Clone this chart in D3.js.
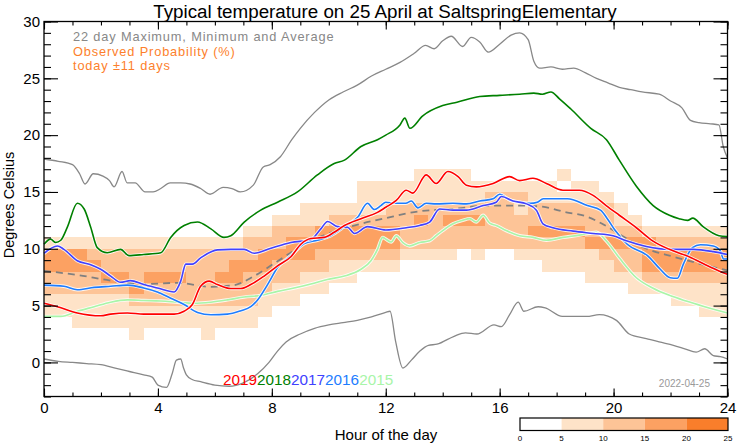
<!DOCTYPE html>
<html><head><meta charset="utf-8">
<script src="https://cdn.jsdelivr.net/npm/d3@7"></script>
<style>body{margin:0;background:#fff} text{font-family:"Liberation Sans",Arial,Helvetica,sans-serif}</style>
</head><body><svg id="c" width="742" height="445"></svg>
<script>
// ---------------- data ----------------
const title = "Typical temperature on 25 April at SaltspringElementary";
const xTicks = [0,4,8,12,16,20,24];
const yTicks = [0,5,10,15,20,25,30];
const probTicks = [0,5,10,15,20,25];
const probColors = ["#ffffff","#fee3c8","#fdc497","#fca162","#f97e2b"];
// probability class per half-hour column (col 0 = 00:00-00:30), chars = T cells 1..17 (class k => 5k..5k+5 %)
const heatCols = [
"00011223310000000","00011223310000000","00111223310000000","00111223210000000",
"00111232210000000","00111232210000000","01112322210000000","00112232210000000",
"00112232210000000","00112232210000000","00112222210000000","01112222210000000",
"00112232210000000","00112233210000000","00112223221000000","00011223321000000",
"00001122322100000","00001122332100000","00000112332110000","00000112233110000",
"00000011233210000","00000011233210000","00000001233211100","00000001233211100",
"00000001233221100","00000000122221100","00000000122321110","00000000122221110",
"00000000122321110","00000000022321110","00000000122321100","00000000022222100",
"00000000022222100","00000000122212100","00000000123221100","00000001123221100",
"00000001123221010","00000001123221100","00000011132221100","00000011232221000",
"00000012232110000","00000112232100000","00000123331000000","00000123321000000",
"00001123321000000","00001123321000000","00011123321000000","00011123321000000"];

const maxLine = [[0,17.9],[0.5,17.7],[1.0,17.4],[1.25,16.6],[1.44,15.7],[1.73,16.6],[2.07,16.4],[2.3,16.0],[2.46,15.45],[2.74,16.8],[2.92,15.8],[3.2,15.8],[3.55,15.0],[3.83,15.0],[4.1,15.3],[4.43,15.8],[4.8,15.8],[5.13,15.7],[5.5,15.3],[5.83,14.8],[6.29,15.4],[6.6,15.3],[6.89,15.0],[7.35,15.6],[7.7,17.2],[7.94,17.4],[8.3,18.1],[8.7,19.6],[9.0,20.6],[9.5,22.0],[10.0,23.1],[10.5,23.8],[11.0,24.4],[11.5,25.2],[12.0,25.8],[12.5,26.4],[13.0,27.2],[13.4,27.9],[13.7,27.6],[14.0,28.3],[14.3,28.7],[14.7,27.8],[15.0,28.6],[15.3,28.2],[15.6,27.3],[16.0,28.0],[16.4,28.8],[16.7,29.0],[17.0,28.4],[17.2,26.5],[17.4,25.9],[17.8,26.0],[18.2,25.8],[18.6,25.9],[19.0,25.5],[19.4,25.0],[19.8,24.6],[20.2,24.2],[20.6,24.0],[21.0,23.8],[21.6,23.6],[22.0,23.0],[22.4,22.4],[22.7,21.3],[23.0,21.1],[23.4,21.0],[23.7,20.9],[23.85,19.0],[24,18.0]];
const minLine = [[0,0.3],[0.5,0.1],[1,0.0],[1.5,-0.1],[2,-0.2],[2.5,-0.5],[3,-0.8],[3.5,-1.1],[3.8,-1.3],[4.0,-2.0],[4.3,-2.2],[4.5,-1.0],[4.65,0.2],[4.8,0.3],[4.9,-0.5],[5.0,-1.1],[5.2,-1.5],[5.5,-1.7],[6.0,-2.0],[6.5,-2.1],[7.0,-1.8],[7.5,-1.0],[7.9,0.0],[8.2,1.0],[8.5,1.8],[9,2.5],[9.5,3.0],[10,3.3],[10.5,3.5],[11,3.7],[11.5,4.0],[12.0,4.4],[12.15,4.5],[12.35,1.8],[12.6,-0.5],[12.9,0.2],[13.2,1.0],[13.5,1.5],[13.8,1.6],[14.4,2.3],[14.8,2.6],[15.2,2.5],[15.8,3.3],[16.06,3.15],[16.35,4.2],[16.65,5.3],[16.85,4.5],[17.35,4.9],[17.6,4.8],[18.2,4.05],[19.05,4.05],[19.5,4.2],[20.1,3.7],[20.55,2.5],[21.15,2.1],[21.6,1.8],[22.1,1.5],[22.5,1.2],[22.9,0.9],[23.2,1.2],[23.5,0.6],[23.75,0.5],[24,0.3]];
const avgLine = [[0,8.05],[1.17,7.7],[2.34,7.2],[3.5,6.9],[4.68,7.0],[5.86,6.65],[6.68,6.8],[7.38,7.6],[8.2,8.9],[9.02,10.2],[9.95,11.3],[11.13,12.2],[12,12.7],[13.18,13.3],[14.36,13.5],[15.53,13.8],[16.7,13.8],[17.5,13.7],[18.34,13.2],[19.04,12.85],[19.6,12.2],[20.2,11.3],[20.8,10.4],[21.39,9.8],[21.96,9.4],[22.55,9.0],[23.14,8.6],[24,8.1]];
const y2019 = [[0,5.2],[0.47,4.9],[1.17,4.35],[1.99,4.1],[2.34,4.25],[2.93,4.35],[3.5,4.25],[4.57,4.25],[4.92,4.5],[5.21,5.1],[5.5,6.7],[5.8,7.15],[6.09,6.85],[6.56,6.5],[6.91,6.5],[7.26,6.85],[7.73,7.6],[8.2,8.5],[8.67,9.3],[9.02,10.4],[9.37,10.9],[9.84,11.0],[10.19,11.45],[10.55,12.05],[11.13,12.65],[11.71,13.2],[12,13.65],[12.37,14.25],[12.72,15.15],[12.95,14.9],[13.42,16.5],[13.77,15.75],[14.18,16.8],[14.54,16.35],[14.83,15.6],[15.18,15.45],[15.77,15.75],[16.35,16.35],[16.7,16.0],[17.17,16.2],[17.64,15.75],[18.22,15.15],[18.8,15.15],[19.28,14.7],[19.74,13.8],[20.2,12.95],[20.8,11.85],[21.37,10.7],[21.96,9.95],[22.55,9.4],[23.14,8.7],[23.7,8.05],[24,7.75]];
const y2018 = [[0,10.4],[0.23,10.85],[0.41,10.55],[0.59,10.75],[0.82,11.9],[1.17,14.0],[1.41,13.5],[1.64,11.9],[1.87,10.1],[2.22,9.65],[2.69,9.95],[2.98,9.4],[3.5,9.5],[4.1,9.65],[4.45,11.0],[4.92,12.05],[5.39,12.35],[5.86,11.75],[6.32,11.0],[6.56,11.15],[7.03,12.35],[7.61,13.4],[8.2,14.1],[8.9,15.0],[9.6,16.5],[10.19,17.5],[10.55,17.8],[11.13,19.0],[11.71,19.6],[12,20.0],[12.5,20.9],[12.67,21.5],[12.85,20.6],[13.3,21.7],[14,22.6],[14.5,22.9],[15.3,23.4],[16,23.5],[16.7,23.6],[17.2,23.7],[17.5,23.6],[17.8,23.8],[18.1,23.2],[18.5,22.3],[19.2,20.6],[19.75,19.6],[20.2,17.8],[20.8,15.5],[21.39,13.8],[21.96,12.95],[22.3,12.65],[22.6,12.5],[22.78,12.7],[23.14,11.95],[23.7,11.15],[24,11.07]];
const y2017 = [[0,9.6],[0.47,10.25],[0.7,9.95],[1.17,8.95],[1.64,8.6],[1.99,8.2],[2.34,7.6],[2.69,7.05],[3.03,7.2],[3.5,6.85],[3.98,6.55],[4.57,6.2],[4.8,7.15],[4.98,8.65],[5.21,8.65],[5.5,9.2],[6.09,9.9],[6.56,9.95],[7.03,9.95],[7.38,9.6],[7.97,10.05],[8.67,10.55],[9.37,10.8],[9.72,11.75],[9.96,12.4],[10.31,11.95],[10.66,11.9],[10.9,11.35],[11.36,11.95],[12,11.65],[12.72,11.85],[13.19,12.05],[13.54,12.35],[13.89,13.5],[14.36,13.4],[14.83,13.4],[15.42,13.8],[15.88,14.1],[16.06,14.6],[16.47,14.2],[16.94,13.95],[17.29,13.4],[17.52,12.2],[17.87,11.85],[18.58,11.55],[19.28,11.35],[19.98,11.15],[20.45,10.7],[21.15,10.2],[21.96,9.95],[22.8,9.95],[23.5,9.75],[24,9.5]];
const y2016 = [[0,6.8],[0.7,6.7],[1.17,6.4],[1.76,6.6],[2.34,6.7],[2.93,6.8],[3.5,6.55],[3.98,6.2],[4.45,5.65],[4.92,5.1],[5.39,4.4],[5.86,4.2],[6.44,4.25],[6.91,4.55],[7.26,4.9],[7.5,5.5],[7.85,6.85],[8.2,8.35],[8.67,9.4],[9.14,10.45],[9.6,10.75],[10.07,11.15],[10.55,11.95],[11.02,12.8],[11.36,14.0],[11.6,13.45],[11.83,13.8],[12,14.1],[12.35,14.0],[12.7,14.0],[12.9,14.2],[13.13,13.6],[13.42,14.0],[13.77,13.95],[14.36,14.0],[14.83,13.95],[15.3,14.2],[15.77,14.4],[16.0,14.8],[16.35,14.3],[16.72,14.1],[17.07,14.0],[17.32,14.1],[17.53,14.4],[18.38,14.4],[19.08,13.8],[19.54,13.4],[19.78,12.65],[20.06,11.6],[20.48,10.4],[21.19,9.4],[21.64,8.2],[21.99,7.45],[22.24,7.4],[22.45,8.65],[22.77,10.1],[23.05,10.35],[23.5,10.25],[23.75,9.8],[23.86,9.1],[24,9.1]];
const y2015 = [[0,4.05],[0.59,4.05],[1.17,4.5],[1.76,4.9],[2.34,5.3],[2.93,5.5],[3.5,5.45],[4.1,5.4],[4.68,5.3],[5.27,5.2],[5.86,5.3],[6.44,5.5],[7.03,5.75],[7.61,5.9],[8.2,6.25],[8.78,6.55],[9.37,6.9],[9.95,7.3],[10.55,7.6],[11.13,8.2],[11.48,8.95],[11.71,9.95],[11.89,11.0],[12,10.85],[12.19,10.6],[12.37,11.15],[12.6,10.55],[12.84,10.25],[13.19,10.55],[13.54,10.7],[13.77,11.15],[14.0,11.6],[14.36,12.2],[14.7,12.5],[14.95,12.65],[15.18,12.35],[15.42,12.95],[15.65,12.25],[15.88,12.05],[16.23,11.6],[16.7,11.15],[17.17,11.0],[17.64,10.75],[18.22,11.0],[18.8,11.2],[19.4,11.45],[19.74,10.7],[20.2,9.2],[20.8,7.45],[21.37,6.55],[21.96,5.9],[22.55,5.4],[23.14,4.95],[23.7,4.55],[24,4.35]];
const years = ["2019","2018","2017","2016","2015"];
const yearColors = ["#ff0000","#008000","#4141ff","#1e7dff","#a8f5a8"];
const yearSeries = [y2019,y2018,y2017,y2016,y2015];

// ---------------- drawing ----------------
const svg = d3.select("#c");
const L = 44, R = 727.5, T = 21.5, B = 396.5;
const x = d3.scaleLinear().domain([0,24]).range([L,R]);
const y = d3.scaleLinear().domain([-3,30]).range([B,T]);
const color = d3.scaleThreshold().domain([5,10,15,20]).range(probColors);

// heatmap
const cells = [];
heatCols.forEach((s,ci)=>{ for(let k=0;k<s.length;k++){ const c=+s[k]; if(c>0) cells.push({h:ci*0.5, t:k+1, p:c*5+2.5}); }});
svg.append("g").selectAll("rect").data(cells).join("rect")
  .attr("x",d=>x(d.h)).attr("width",d=>x(d.h+0.5)-x(d.h))
  .attr("y",d=>y(d.t+1)).attr("height",d=>y(d.t)-y(d.t+1))
  .attr("fill",d=>color(d.p)).attr("shape-rendering","crispEdges");

const line = d3.line().x(d=>x(d[0])).y(d=>y(d[1])).curve(d3.curveMonotoneX);
const gl = svg.append("g");
gl.append("path").attr("d",line(avgLine)).attr("fill","none").attr("stroke","#808080").attr("stroke-width",1.8).attr("stroke-dasharray","7,5");
[maxLine,minLine].forEach(s=>gl.append("path").attr("d",line(s)).attr("fill","none").attr("stroke","#888").attr("stroke-width",1.3));
for(let i=yearSeries.length-1;i>=0;i--){
  gl.append("path").attr("d",line(yearSeries[i])).attr("fill","none").attr("stroke","#fff").attr("stroke-width",3.4).attr("stroke-opacity",0.85);
  gl.append("path").attr("d",line(yearSeries[i])).attr("fill","none").attr("stroke",yearColors[i]).attr("stroke-width",1.6);
}

// axes (ticks inward)
const minorY = d3.range(-3,31), minorX = d3.range(0,25);
function ax(gen, tv, size, tr){ const g=svg.append("g").attr("transform",tr).call(gen.tickValues(tv).tickSize(size).tickFormat("")); g.select(".domain").remove(); g.selectAll("line").attr("stroke","#000").attr("stroke-width",1.1); }
ax(d3.axisRight(y), minorY, 7, `translate(${L},0)`);
ax(d3.axisRight(y), yTicks, 14, `translate(${L},0)`);
ax(d3.axisLeft(y), minorY, 7, `translate(${R},0)`);
ax(d3.axisLeft(y), yTicks, 14, `translate(${R},0)`);
ax(d3.axisTop(x), minorX, 4, `translate(0,${B})`);
ax(d3.axisTop(x), xTicks, 8, `translate(0,${B})`);
ax(d3.axisBottom(x), minorX, 4, `translate(0,${T})`);
ax(d3.axisBottom(x), xTicks, 8, `translate(0,${T})`);
svg.append("rect").attr("x",L).attr("y",T).attr("width",R-L).attr("height",B-T).attr("fill","none").attr("stroke","#000").attr("stroke-width",1.3);

// tick labels
const yl = svg.append("g").attr("transform",`translate(${L},0)`).call(d3.axisLeft(y).tickValues(yTicks).tickSize(0).tickPadding(4));
yl.select(".domain").remove(); yl.selectAll("text").attr("font-size",15).attr("fill","#000").attr("font-family","Liberation Sans, Arial");
const xl = svg.append("g").attr("transform",`translate(0,${B})`).call(d3.axisBottom(x).tickValues(xTicks).tickSize(0).tickPadding(6));
xl.select(".domain").remove(); xl.selectAll("text").attr("font-size",15).attr("fill","#000").attr("font-family","Liberation Sans, Arial");

// titles
svg.append("text").attr("x",385).attr("y",18).attr("text-anchor","middle").attr("font-size",18.8).text(title);
svg.append("text").attr("x",386).attr("y",440).attr("text-anchor","middle").attr("font-size",15).text("Hour of the day");
svg.append("text").attr("transform","translate(14,205) rotate(-90)").attr("text-anchor","middle").attr("font-size",14.5).text("Degrees Celsius");

// legend texts
const legendLines = [["22 day Maximum, Minimum and Average","#888"],["Observed Probability (%)","#fd7f2c"],["today \u00b111 days","#fd7f2c"]];
legendLines.forEach((d,i)=>svg.append("text").attr("x",73).attr("y",41+i*14.5).attr("font-size",12.8).attr("letter-spacing","0.85px").attr("fill",d[1]).text(d[0]));

// year labels
const yt = svg.append("text").attr("x",223).attr("y",385).attr("font-size",15.3);
years.forEach((yr,i)=>yt.append("tspan").attr("fill",yearColors[i]).text(yr));
svg.append("text").attr("x",710).attr("y",387).attr("text-anchor","end").attr("font-size",10).attr("fill","#999").text("2022-04-25");

// colorbar
const cb = d3.scaleLinear().domain([0,25]).range([520,728]);
svg.append("g").selectAll("rect").data(probTicks.slice(0,-1)).join("rect")
  .attr("x",d=>cb(d)).attr("width",d=>cb(d+5)-cb(d)).attr("y",418).attr("height",12.5)
  .attr("fill",d=>color(d+2.5));
svg.append("rect").attr("x",520).attr("y",418).attr("width",208).attr("height",12.5).attr("fill","none").attr("stroke","#000").attr("stroke-width",1.2);
svg.append("g").selectAll("text").data(probTicks).join("text").attr("x",d=>cb(d)).attr("y",441).attr("text-anchor","middle").attr("font-size",8).text(d=>d);
</script></body></html>
